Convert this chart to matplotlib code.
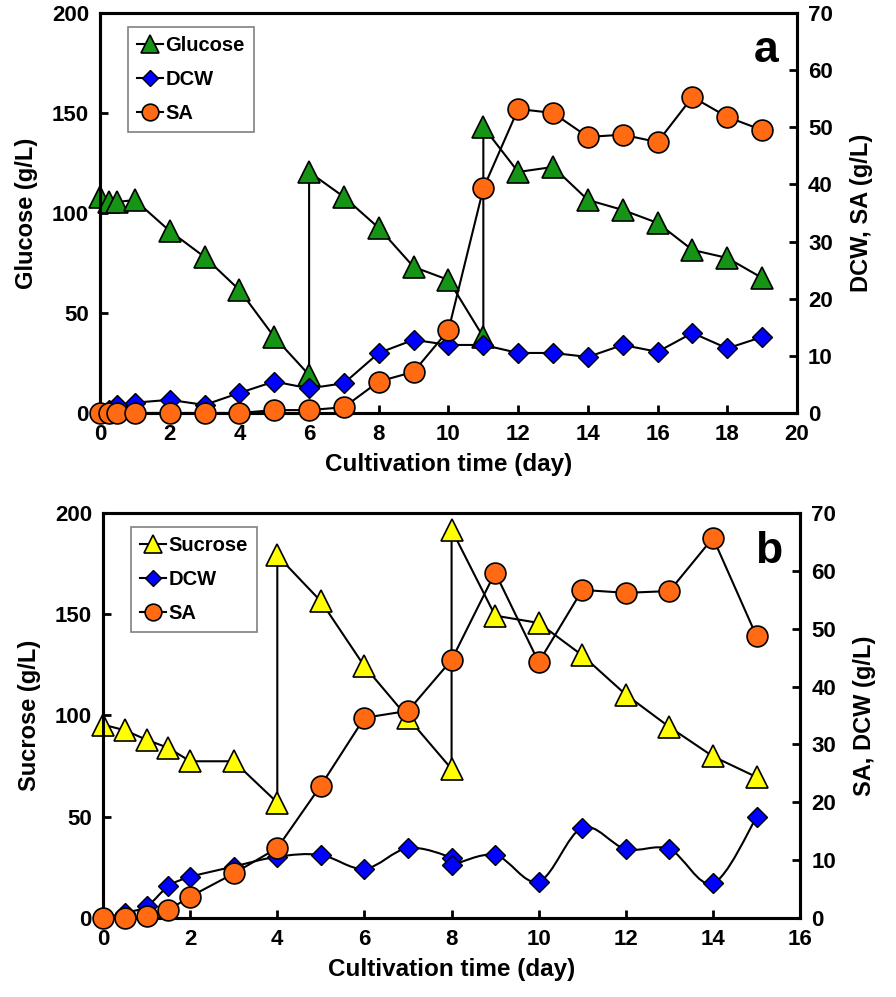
import matplotlib
matplotlib.use("Agg")
import matplotlib.pyplot as plt
from matplotlib.path import Path
from matplotlib.patches import PathPatch

plt.rcParams['font.family'] = ['Liberation Sans', 'DejaVu Sans']
plt.rcParams['font.weight'] = 'bold'

# panel a: glucose fed-batch
a_glc_t = [0, 0.25, 0.5, 1, 2, 3, 4, 5, 6, 6, 7, 8, 9, 10, 11, 11, 12, 13, 14, 15, 16, 17, 18, 19]
a_glc = [108, 105.5, 105.5, 106.5, 91, 78, 61.5, 38, 19, 120.5, 108, 92.5, 73, 66.5, 38, 143,
         120.5, 123, 106.5, 101.5, 95, 81.5, 77.5, 67.5]
a_t = [0, 0.25, 0.5, 1, 2, 3, 4, 5, 6, 7, 8, 9, 10, 11, 12, 13, 14, 15, 16, 17, 18, 19]
a_dcw = [0, 0.6, 1.4, 1.8, 2.3, 1.4, 3.5, 5.5, 4.3, 5.2, 10.5, 12.8, 11.9, 11.9, 10.5, 10.5,
         9.8, 11.9, 10.7, 14.0, 11.3, 13.3]
a_sa = [0, 0, 0, 0, 0, 0, 0, 0.5, 0.5, 1.0, 5.5, 7.2, 14.5, 39.3, 53.2, 52.5, 48.3, 48.7,
        47.4, 55.3, 51.8, 49.5]

# panel b: sucrose fed-batch
b_suc_t = [0, 0.5, 1, 1.5, 2, 3, 4, 4, 5, 6, 7, 8, 8, 9, 10, 11, 12, 13, 14, 15]
b_suc = [95.5, 92.7, 88, 84, 77.4, 77.4, 57, 179, 156.4, 124.3, 98.8, 73.6, 191.8, 149.3,
         145.7, 129.7, 110.3, 94.3, 79.8, 69.6]
b_dcw_t = [0, 0.5, 1, 1.5, 2, 3, 4, 5, 6, 7, 8, 8, 9, 10, 11, 12, 13, 14, 15]
b_dcw = [0, 0.9, 2.0, 5.5, 7.1, 8.9, 10.6, 10.9, 8.5, 12.1, 10.4, 9.2, 10.9, 6.3, 15.6,
         11.9, 11.9, 6.0, 17.4]
b_sa_t = [0, 0.5, 1, 1.5, 2, 3, 4, 5, 6, 7, 8, 9, 10, 11, 12, 13, 14, 15]
b_sa = [0, 0, 0.3, 1.4, 3.7, 7.7, 12.1, 22.9, 34.6, 35.8, 44.6, 59.7, 44.2, 56.7, 56.2,
        56.5, 65.7, 48.7]

GREEN = '#159415'
BLUE = '#0000FF'
ORANGE = '#FF6A13'
YELLOW = '#FFFF00'

fig = plt.figure(figsize=(8.96, 9.97), dpi=100)


def smooth_path(x, y):
    # Excel-like smoothed line: cubic Bezier through the points (Catmull-Rom)
    pts = list(zip(x, y))
    verts = [pts[0]]
    codes = [Path.MOVETO]
    n = len(pts)
    for i in range(n - 1):
        p0 = pts[max(i - 1, 0)]
        p1 = pts[i]
        p2 = pts[i + 1]
        p3 = pts[min(i + 2, n - 1)]
        c1 = (p1[0] + (p2[0] - p0[0]) / 6, p1[1] + (p2[1] - p0[1]) / 6)
        c2 = (p2[0] - (p3[0] - p1[0]) / 6, p2[1] - (p3[1] - p1[1]) / 6)
        verts += [c1, c2, p2]
        codes += [Path.CURVE4] * 3
    return Path(verts, codes)


def style(ax, ax2, xmax, left_label, right_label, letter):
    ax.set_xlim(0, xmax)
    ax.set_ylim(0, 200)
    ax2.set_ylim(0, 70)
    ax.set_xticks(range(0, xmax + 1, 2))
    ax.set_yticks([0, 50, 100, 150, 200])
    ax2.set_yticks(range(0, 71, 10))
    for a in (ax, ax2):
        for s in a.spines.values():
            s.set_linewidth(2.2)
            s.set_zorder(0)
        a.tick_params(direction='in', length=6, width=2, labelsize=16, pad=8)
    ax.tick_params(axis='x', top=False)
    ax.set_ylabel(left_label, fontsize=17, fontweight='bold', labelpad=10)
    ax2.set_ylabel(right_label, fontsize=17, fontweight='bold', labelpad=12)
    ax.set_xlabel('Cultivation time (day)', fontsize=17.5, fontweight='bold', labelpad=6)
    ax2.text(0.955, 0.905, letter, transform=ax.transAxes, fontsize=32, fontweight='bold',
             ha='center', va='center')


def add_legend(ax2, handles):
    leg = ax2.legend(handles=handles, loc='upper left', bbox_to_anchor=(0.040, 0.965),
                     borderaxespad=0, fontsize=14.5, frameon=True, fancybox=False,
                     framealpha=1, handlelength=1.3, handletextpad=0.1, borderpad=0.45,
                     labelspacing=0.75, markerscale=0.8)
    leg.get_frame().set_edgecolor('#808080')
    leg.get_frame().set_linewidth(1.2)


# ---- panel a ----
ax = fig.add_axes([0.1116, 0.5858, 0.7779, 0.4012])
ax2 = ax.twinx()
l1, = ax.plot(a_glc_t, a_glc, '-^', color='black', lw=1.5, mfc=GREEN, mec='black', mew=1.2,
              ms=16, label='Glucose', clip_on=False)
l2, = ax2.plot(a_t, a_dcw, '-D', color='black', lw=1.5, mfc=BLUE, mec='black', mew=1.0,
               ms=10, label='DCW', clip_on=False)
l3, = ax2.plot(a_t, a_sa, '-o', color='black', lw=1.5, mfc=ORANGE, mec='black', mew=1.2,
               ms=15, label='SA', clip_on=False)
style(ax, ax2, 20, 'Glucose (g/L)', 'DCW, SA (g/L)', 'a')
add_legend(ax2, [l1, l2, l3])

# ---- panel b ----
bx = fig.add_axes([0.115, 0.0792, 0.778, 0.4063])
bx2 = bx.twinx()
m1, = bx.plot(b_suc_t, b_suc, '-^', color='black', lw=1.5, mfc=YELLOW, mec='black', mew=1.2,
              ms=16, label='Sucrose', clip_on=False)
bx2.add_patch(PathPatch(smooth_path(b_dcw_t, b_dcw), fc='none', ec='black', lw=1.5,
                        transform=bx2.transData, zorder=2))
bx2.plot(b_dcw_t, b_dcw, 'D', mfc=BLUE, mec='black', mew=1.0, ms=10, clip_on=False, zorder=2)
m2, = bx2.plot([], [], '-D', color='black', lw=1.5, mfc=BLUE, mec='black', mew=1.0,
               ms=10, label='DCW')
m3, = bx2.plot(b_sa_t, b_sa, '-o', color='black', lw=1.5, mfc=ORANGE, mec='black', mew=1.2,
               ms=15, label='SA', clip_on=False, zorder=3)
style(bx, bx2, 16, 'Sucrose (g/L)', 'SA, DCW (g/L)', 'b')
add_legend(bx2, [m1, m2, m3])

fig.savefig('out.png', dpi=100)
